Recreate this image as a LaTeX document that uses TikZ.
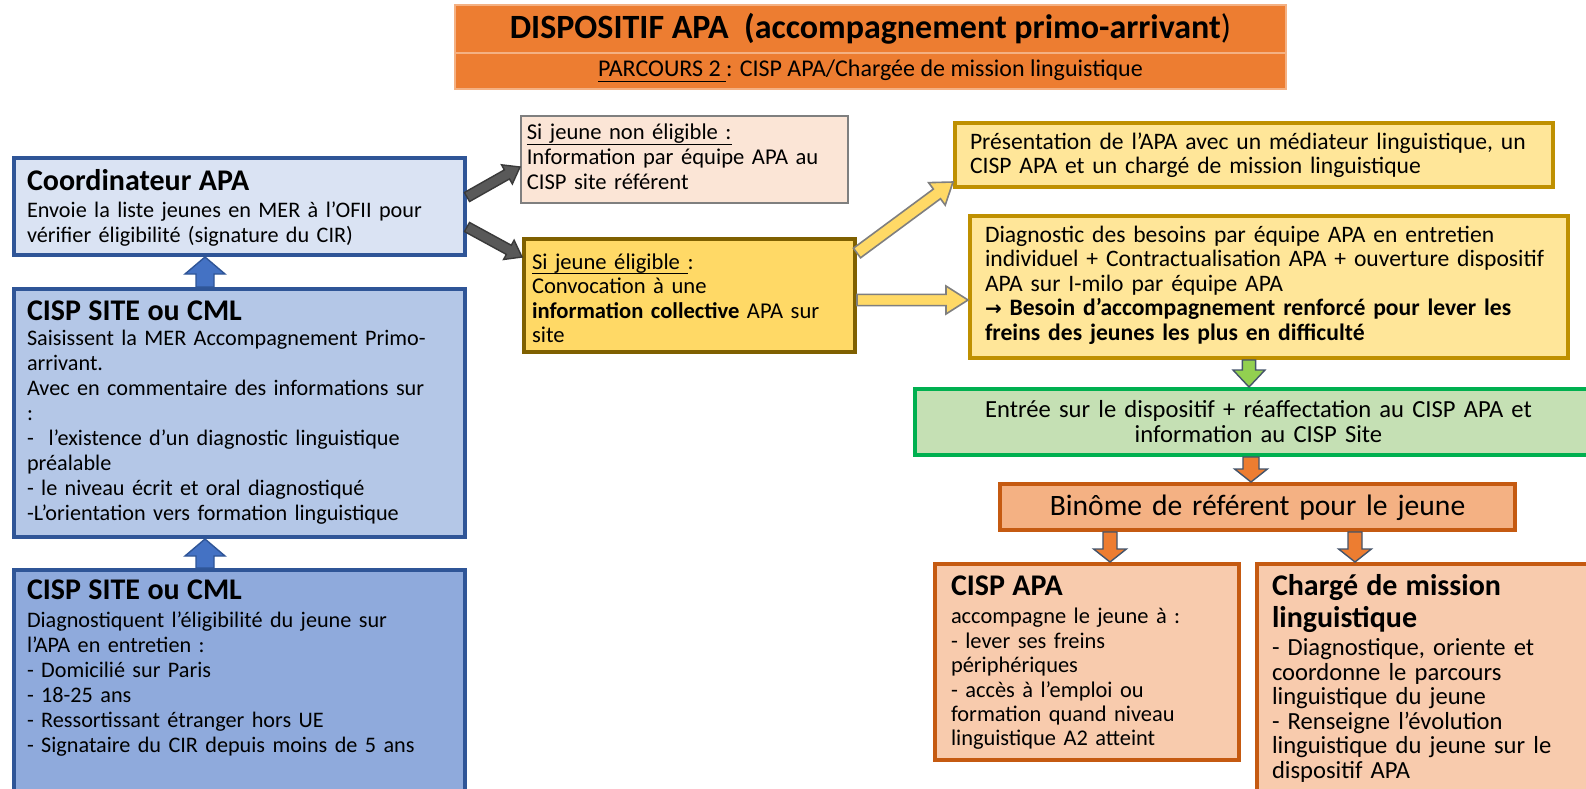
\documentclass[tikz,border=0pt]{standalone}
\usepackage{fontspec}
\setmainfont{Carlito}
\newfontfamily\arrowfont{DejaVu Sans}
\usetikzlibrary{calc}
\definecolor{torange}{HTML}{ED7D31}
\definecolor{cfillA}{HTML}{DAE3F3}
\definecolor{cfillB}{HTML}{B4C7E7}
\definecolor{cfillC}{HTML}{8FAADC}
\definecolor{cblue}{HTML}{2F5597}
\definecolor{pinkfill}{HTML}{FBE5D6}
\definecolor{gborder}{HTML}{7F7F7F}
\definecolor{eligfill}{HTML}{FFD966}
\definecolor{eligborder}{HTML}{7F6000}
\definecolor{yfill}{HTML}{FFE699}
\definecolor{yborder}{HTML}{BF9000}
\definecolor{gfill}{HTML}{C5E0B4}
\definecolor{gborderB}{HTML}{00B050}
\definecolor{binfill}{HTML}{F4B183}
\definecolor{oborder}{HTML}{C55A11}
\definecolor{ofill}{HTML}{F8CBAD}
\definecolor{abluefill}{HTML}{4472C4}
\definecolor{agreenfill}{HTML}{92D050}
\definecolor{aoutline}{HTML}{44546A}
\definecolor{agrayfill}{HTML}{595959}
\definecolor{agrayline}{HTML}{3A3A3A}
\newsavebox{\undlbox}
\newcommand{\undl}[1]{\sbox{\undlbox}{#1}\rlap{\rule[-2.4pt]{\wd\undlbox}{0.5pt}}\usebox{\undlbox}}
\newcommand{\ttl}{\fontsize{15}{15}\selectfont\bfseries}
\newcommand{\blockarrow}[6]{%
  \path ($(#3)!#6!(#2)$) coordinate (hb);
  \draw[#1] ($(#2)!#4!90:(#3)$) -- ($(hb)!#4!90:(#3)$) -- ($(hb)!#5!90:(#3)$) -- (#3)
    -- ($(hb)!#5!-90:(#3)$) -- ($(hb)!#4!-90:(#3)$) -- ($(#2)!#4!-90:(#3)$) -- cycle;}
\tikzset{
  bx/.style={rectangle, anchor=north west, align=left, inner ysep=0pt, inner xsep=7.5pt,
    line width=2pt, font=\fontsize{11.8}{12.3}\selectfont},
  leftfont/.style={font=\fontsize{11.1}{12.5}\selectfont},
  midfont/.style={font=\fontsize{11.3}{12.3}\selectfont},
  bluearr/.style={fill=abluefill, draw=cblue, line width=0.7pt, line join=miter},
  grayarr/.style={fill=agrayfill, draw=agrayline, line width=0.7pt},
  yelarr/.style={fill=eligfill, draw=gborder, line width=0.8pt},
  grnarr/.style={fill=agreenfill, draw=aoutline, line width=0.7pt},
  orarr/.style={fill=torange, draw=aoutline, line width=0.7pt},
}
\begin{document}
\begin{tikzpicture}[x=0.5pt,y=-0.5pt]
\clip (0,0) rectangle (1586,788);
\fill[white] (0,0) rectangle (1586,788);
% title
\node[fill=torange, draw=torange!60!white, line width=0.8pt, minimum width=415.5pt, minimum height=24pt,
  inner sep=0pt, font=\fontsize{17}{17}\selectfont\bfseries] (title) at (870.5,29)
  {DISPOSITIF APA~~(accompagnement primo-arrivant{\mdseries )}};
\node[fill=torange, draw=torange!60!white, line width=0.8pt, minimum width=415.5pt, minimum height=18pt,
  inner sep=0pt, font=\fontsize{12}{12}\selectfont] (sub) at (870.5,71)
  {\undl{PARCOURS 2 }: CISP APA/Chargée de mission linguistique};
% left column
\node[bx, leftfont, fill=cfillA, draw=cblue, inner xsep=6.5pt, text width=212.5pt, text height=16pt, text depth=32.5pt]
  (coord) at (12,156)
  {{\ttl Coordinateur APA}\\[1.2pt]Envoie la liste jeunes en MER à l’OFII pour\\vérifier éligibilité (signature du CIR)};
\node[bx, leftfont, fill=cfillB, draw=cblue, inner xsep=6.5pt, text width=212.5pt, text height=15.5pt, text depth=108.5pt]
  (cisp1) at (12,287)
  {{\ttl CISP SITE ou CML}\\[0.2pt]Saisissent la MER Accompagnement Primo-\\arrivant.\\Avec en commentaire des informations sur\\:\\-~~l’existence d’un diagnostic linguistique\\préalable\\- le niveau écrit et oral diagnostiqué\\-L’orientation vers formation linguistique};
\node[bx, leftfont, fill=cfillC, draw=cblue, inner xsep=6.5pt, text width=212.5pt, text height=14.5pt, text depth=100.5pt]
  (cisp2) at (12,568)
  {{\ttl CISP SITE ou CML}\\[1.5pt]Diagnostiquent l’éligibilité du jeune sur\\l’APA en entretien :\\- Domicilié sur Paris\\- 18-25 ans\\- Ressortissant étranger hors UE\\- Signataire du CIR depuis moins de 5 ans};
% middle column
\node[bx, midfont, fill=pinkfill, draw=gborder, line width=0.8pt, inner xsep=3pt, text width=157.5pt, text height=12pt, text depth=31.5pt]
  (nonelig) at (520,115)
  {\undl{Si jeune non éligible :}\\Information par équipe APA au\\CISP site référent};
\node[bx, midfont, fill=eligfill, draw=eligborder, inner xsep=4pt, text width=157.5pt, text height=15pt, text depth=41.5pt]
  (elig) at (522,237)
  {\undl{Si jeune éligible }:\\Convocation à une\\\textbf{information collective} APA sur\\site};
% right column
\node[bx, fill=yfill, draw=yborder, text width=284pt, text height=13pt, text depth=19pt]
  (pres) at (953,121)
  {Présentation de l’APA avec un médiateur linguistique, un\\CISP APA et un chargé de mission linguistique};
\node[bx, fill=yfill, draw=yborder, text width=284pt, text height=13pt, text depth=58pt]
  (diag) at (968,214)
  {Diagnostic des besoins par équipe APA en entretien\\individuel + Contractualisation APA + ouverture dispositif\\APA sur I-milo par équipe APA\\\textbf{{\arrowfont\fontsize{10}{10}\selectfont →} Besoin d’accompagnement renforcé pour lever les}\\\textbf{freins des jeunes les plus en difficulté}};
\node[bx, align=center, fill=gfill, draw=gborderB, text width=328.5pt, text height=14pt, text depth=19pt,
  font=\fontsize{12.3}{12.5}\selectfont]
  (green) at (913,387)
  {Entrée sur le dispositif + réaffectation au CISP APA et\\information au CISP Site};
\node[bx, align=center, fill=binfill, draw=oborder, text width=242.5pt, text height=15.5pt, text depth=7.5pt,
  font=\fontsize{14.8}{15}\selectfont]
  (binome) at (998,482)
  {Binôme de référent pour le jeune};
\node[bx, fill=ofill, draw=oborder, inner xsep=8pt, text width=136pt, text height=15.5pt, text depth=82.5pt,
  font=\fontsize{11.2}{12.2}\selectfont]
  (cispapa) at (933,562)
  {{\ttl CISP APA}\\[2.2pt]accompagne le jeune à :\\- lever ses freins\\périphériques\\- accès à l’emploi ou\\formation quand niveau\\linguistique A2 atteint};
\node[bx, fill=ofill, draw=oborder, text width=185pt, text height=15.5pt, text depth=110pt,
  font=\fontsize{12.3}{12.3}\selectfont]
  (charge) at (1255,562)
  {{\ttl Chargé de mission}\\[2.2pt]{\ttl linguistique}\\[1.7pt]- Diagnostique, oriente et\\coordonne le parcours\\linguistique du jeune\\- Renseigne l’évolution\\linguistique du jeune sur le\\dispositif APA};
% connector end points
\coordinate (b1a) at (cisp1.north -| 205,0);
\coordinate (b1b) at (coord.south -| 205,0);
\coordinate (b2a) at (cisp2.north -| 205,0);
\coordinate (b2b) at (cisp1.south -| 205,0);
\coordinate (g1a) at (coord.east |- 0,197);
\coordinate (g1b) at (nonelig.west |- 0,167);
\coordinate (g2a) at (coord.east |- 0,227);
\coordinate (g2b) at (elig.west |- 0,257);
\coordinate (y1a) at ($(elig.north east)+(0,16)$);
\coordinate (y1b) at ($(pres.south west)+(0,-7)$);
\coordinate (y2a) at (elig.east |- 0,300);
\coordinate (y2b) at (diag.west |- 0,300);
\coordinate (gra) at (diag.south -| 1249,0);
\coordinate (grb) at (green.north -| 1249,0);
\coordinate (o1a) at (green.south -| 1251,0);
\coordinate (o1b) at (binome.north -| 1251,0);
\coordinate (o2a) at (binome.south -| 1110,0);
\coordinate (o2b) at (cispapa.north -| 1110,0);
\coordinate (o3a) at (binome.south -| 1355,0);
\coordinate (o3b) at (charge.north -| 1355,0);
% block arrows
\blockarrow{bluearr}{b1a}{b1b}{4.5pt}{10pt}{8.5pt}
\blockarrow{bluearr}{b2a}{b2b}{4.5pt}{10pt}{8.5pt}
\blockarrow{grayarr}{g1a}{g1b}{2.6pt}{5.5pt}{7.5pt}
\blockarrow{grayarr}{g2a}{g2b}{2.6pt}{5.5pt}{7.5pt}
\blockarrow{yelarr}{y1a}{y1b}{3pt}{7pt}{10pt}
\blockarrow{yelarr}{y2a}{y2b}{2.8pt}{7pt}{11pt}
\blockarrow{grnarr}{gra}{grb}{3.3pt}{8pt}{8.5pt}
\blockarrow{orarr}{o1a}{o1b}{4pt}{8.2pt}{6.5pt}
\blockarrow{orarr}{o2a}{o2b}{3.5pt}{8.2pt}{6.5pt}
\blockarrow{orarr}{o3a}{o3b}{3.5pt}{8.2pt}{6.5pt}
\end{tikzpicture}
\end{document}
